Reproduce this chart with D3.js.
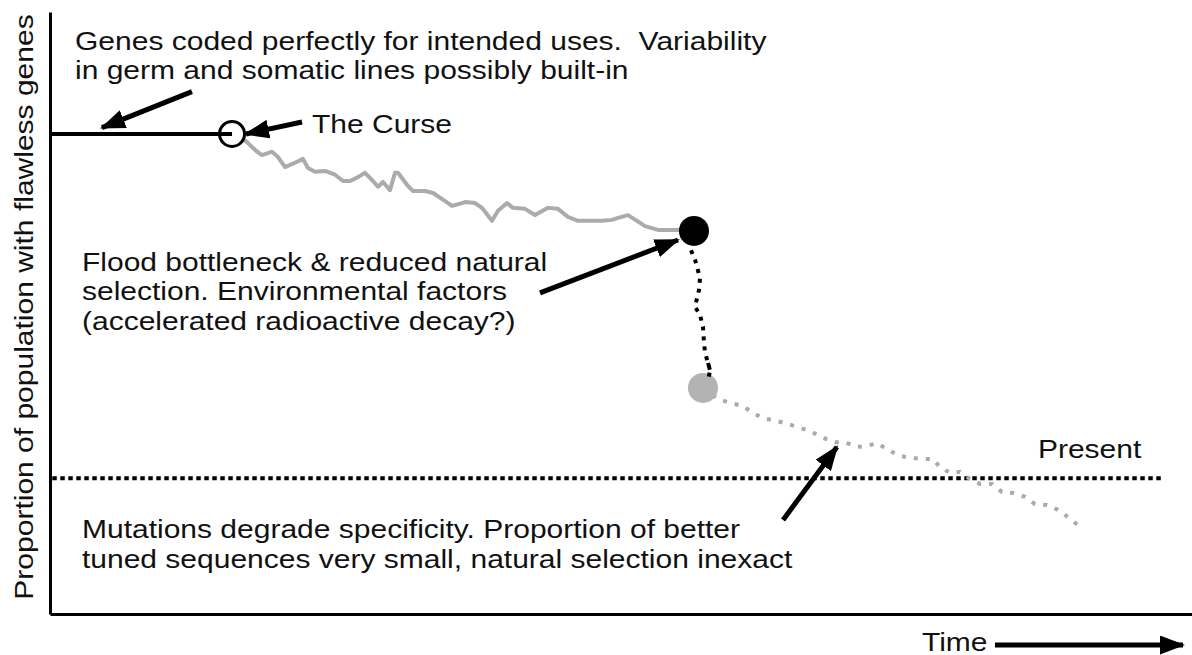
<!DOCTYPE html>
<html>
<head>
<meta charset="utf-8">
<script src="https://cdn.jsdelivr.net/npm/d3@7"></script>
<style>
  body { margin: 0; background: #fff; }
  svg { display: block; font-family: "Liberation Sans", Arial, sans-serif; }
</style>
</head>
<body>
<svg id="chart" width="1192" height="655"></svg>
<script>
// --- Data (time units 0..100, proportion of flawless genes, 1 = perfect) ---
const flawless = [[0, 1], [15.94, 1]];
const curse = [15.94, 1];

const afterCurse = [
  [16.99, 0.988], [17.25, 0.983], [18.13, 0.963], [18.56, 0.956], [19.44, 0.963],
  [19.96, 0.952], [20.58, 0.931], [21.45, 0.940], [22.15, 0.948], [22.59, 0.929],
  [23.20, 0.921], [24.08, 0.923], [24.96, 0.915], [25.66, 0.902], [26.27, 0.902],
  [26.97, 0.910], [27.58, 0.919], [28.20, 0.904], [28.72, 0.890], [29.16, 0.900],
  [29.77, 0.883], [30.21, 0.919], [30.47, 0.919], [31.26, 0.894], [31.79, 0.881],
  [32.84, 0.881], [33.54, 0.877], [34.41, 0.863], [35.20, 0.850], [36.08, 0.856],
  [36.34, 0.858], [37.22, 0.856], [37.83, 0.846], [38.70, 0.819], [39.23, 0.840],
  [40.02, 0.856], [40.54, 0.846], [41.59, 0.844], [42.47, 0.831], [43.61, 0.846],
  [44.48, 0.844], [45.36, 0.827], [46.23, 0.819], [48.34, 0.819], [49.21, 0.821],
  [49.74, 0.825], [50.61, 0.831], [51.40, 0.819], [52.10, 0.808], [53.24, 0.800],
  [55.17, 0.800], [56.39, 0.798]
];

const flood = [56.39, 0.798];

const bottleneck = [
  [56.39, 0.798], [56.04, 0.763], [56.48, 0.738], [56.92, 0.700], [56.83, 0.675],
  [56.48, 0.640], [56.92, 0.623], [57.18, 0.598], [57.27, 0.565], [57.36, 0.544],
  [57.62, 0.523], [57.79, 0.508], [57.62, 0.483]
];

const postFlood = [57.18, 0.471];

const degradation = [
  [57.18, 0.471], [58.49, 0.448], [59.54, 0.440], [60.68, 0.433], [61.56, 0.419],
  [62.43, 0.408], [63.66, 0.402], [64.62, 0.396], [65.67, 0.388], [66.73, 0.379],
  [67.69, 0.367], [68.74, 0.358], [69.61, 0.358], [70.67, 0.348], [71.54, 0.350],
  [72.42, 0.356], [73.38, 0.342], [74.43, 0.329], [76.18, 0.323], [77.32, 0.323],
  [77.93, 0.306], [78.81, 0.294], [79.68, 0.296], [80.56, 0.281], [81.44, 0.271],
  [82.49, 0.271], [83.36, 0.254], [84.33, 0.252], [85.38, 0.244], [86.25, 0.229],
  [87.30, 0.227], [88.27, 0.217], [89.14, 0.202], [90.02, 0.185]
];

const presentLevel = 0.283;
const presentEnd = 97.5;

// annotation arrows: [from, to]
const pointers = [
  [[12.43, 1.088], [4.55, 1.013]],
  [[22.07, 1.025], [17.16, 1.0]],
  [[42.91, 0.669], [54.99, 0.779]],
  [[64.19, 0.196], [68.91, 0.348]]
];

const notes = [
  { t: 2.19, p: 1.175, lines: ["Genes coded perfectly for intended uses.  Variability", "in germ and somatic lines possibly built-in"] },
  { t: 22.94, p: 1.002, lines: ["The Curse"] },
  { t: 2.80, p: 0.715, lines: ["Flood bottleneck & reduced natural", "selection. Environmental factors", "(accelerated radioactive decay?)"] },
  { t: 86.51, p: 0.325, lines: ["Present"] },
  { t: 2.80, p: 0.158, lines: ["Mutations degrade specificity. Proportion of better", "tuned sequences very small, natural selection inexact"] }
];

const xLabel = "Time";
const yLabel = "Proportion of population with flawless genes";

// --- Setup ---
const svg = d3.select("#chart");
const width = +svg.attr("width");
const height = +svg.attr("height");
const margin = { top: 12, right: 0, bottom: 41, left: 50 };
const stretch = 1.2; // the lettering in the figure is set wide

const x = d3.scaleLinear().domain([0, 100]).range([margin.left, width - margin.right]);
const y = d3.scaleLinear().domain([0, 1.254]).range([height - margin.bottom, margin.top]);

const line = d3.line().x(d => x(d[0])).y(d => y(d[1]));

const defs = svg.append("defs");
defs.append("marker")
  .attr("id", "head")
  .attr("viewBox", "0 0 25 19")
  .attr("refX", 23).attr("refY", 9.5)
  .attr("markerUnits", "userSpaceOnUse")
  .attr("markerWidth", 25).attr("markerHeight", 19)
  .attr("orient", "auto")
  .append("path")
  .attr("d", "M0,0 L25,9.5 L0,19 Z")
  .attr("fill", "#000");

// --- Axes (no ticks, just the frame lines) ---
svg.append("g")
  .attr("transform", `translate(0,${y(0)})`)
  .call(d3.axisBottom(x).tickValues([]).tickSizeOuter(0));
svg.append("g")
  .attr("transform", `translate(${x(0)},0)`)
  .call(d3.axisLeft(y).tickValues([]).tickSizeOuter(0));
svg.selectAll(".domain").attr("stroke", "#000").attr("stroke-width", 3);

// --- Present line ---
svg.append("path")
  .attr("d", line([[0.2, presentLevel], [presentEnd, presentLevel]]))
  .attr("fill", "none")
  .attr("stroke", "#000")
  .attr("stroke-width", 4)
  .attr("stroke-dasharray", "4.5 3.5");

// --- Series ---
svg.append("path")
  .attr("d", line(flawless))
  .attr("fill", "none")
  .attr("stroke", "#000")
  .attr("stroke-width", 4);

svg.append("path")
  .attr("d", line(afterCurse))
  .attr("fill", "none")
  .attr("stroke", "#ababab")
  .attr("stroke-width", 4)
  .attr("stroke-linejoin", "round");

svg.append("path")
  .attr("d", line(bottleneck))
  .attr("fill", "none")
  .attr("stroke", "#000")
  .attr("stroke-width", 4)
  .attr("stroke-dasharray", "4 6");

svg.append("path")
  .attr("d", line(degradation))
  .attr("fill", "none")
  .attr("stroke", "#aaa")
  .attr("stroke-width", 4)
  .attr("stroke-dasharray", "4 8");

svg.append("circle")
  .attr("cx", x(curse[0])).attr("cy", y(curse[1]))
  .attr("r", 12.5)
  .attr("fill", "none")
  .attr("stroke", "#000")
  .attr("stroke-width", 3);

svg.append("circle")
  .attr("cx", x(flood[0])).attr("cy", y(flood[1]))
  .attr("r", 15)
  .attr("fill", "#000");

svg.append("circle")
  .attr("cx", x(postFlood[0])).attr("cy", y(postFlood[1]))
  .attr("r", 15)
  .attr("fill", "#b3b3b3");

// redraw the bottom of the bottleneck dots over the grey circle
svg.append("path")
  .attr("d", line(bottleneck.slice(-3)))
  .attr("fill", "none")
  .attr("stroke", "#000")
  .attr("stroke-width", 4)
  .attr("stroke-dasharray", "4 6");

// --- Annotation arrows ---
svg.selectAll(".pointer")
  .data(pointers)
  .join("path")
  .attr("class", "pointer")
  .attr("d", d => line(d))
  .attr("stroke", "#000")
  .attr("stroke-width", 5)
  .attr("marker-end", "url(#head)");

// --- Notes ---
svg.selectAll(".note")
  .data(notes)
  .join("text")
  .attr("class", "note")
  .attr("transform", d => `translate(${x(d.t)},${y(d.p)}) scale(${stretch},1)`)
  .attr("font-size", 25)
  .attr("fill", "#111")
  .selectAll("tspan")
  .data(d => d.lines)
  .join("tspan")
  .attr("x", 0)
  .attr("dy", (d, i) => i === 0 ? 0 : 29.5)
  .attr("xml:space", "preserve")
  .style("white-space", "pre")
  .text(d => d);

// --- Axis labels ---
svg.append("text")
  .attr("transform", `translate(33,307) rotate(-90) scale(${stretch},1)`)
  .attr("text-anchor", "middle")
  .attr("font-size", 25)
  .attr("fill", "#111")
  .text(yLabel);

svg.append("text")
  .attr("transform", `translate(922,651) scale(${stretch},1)`)
  .attr("font-size", 25)
  .attr("fill", "#111")
  .text(xLabel);

svg.append("path")
  .attr("d", "M995,645 L1183,645")
  .attr("stroke", "#000")
  .attr("stroke-width", 5)
  .attr("marker-end", "url(#head)");
</script>
</body>
</html>
